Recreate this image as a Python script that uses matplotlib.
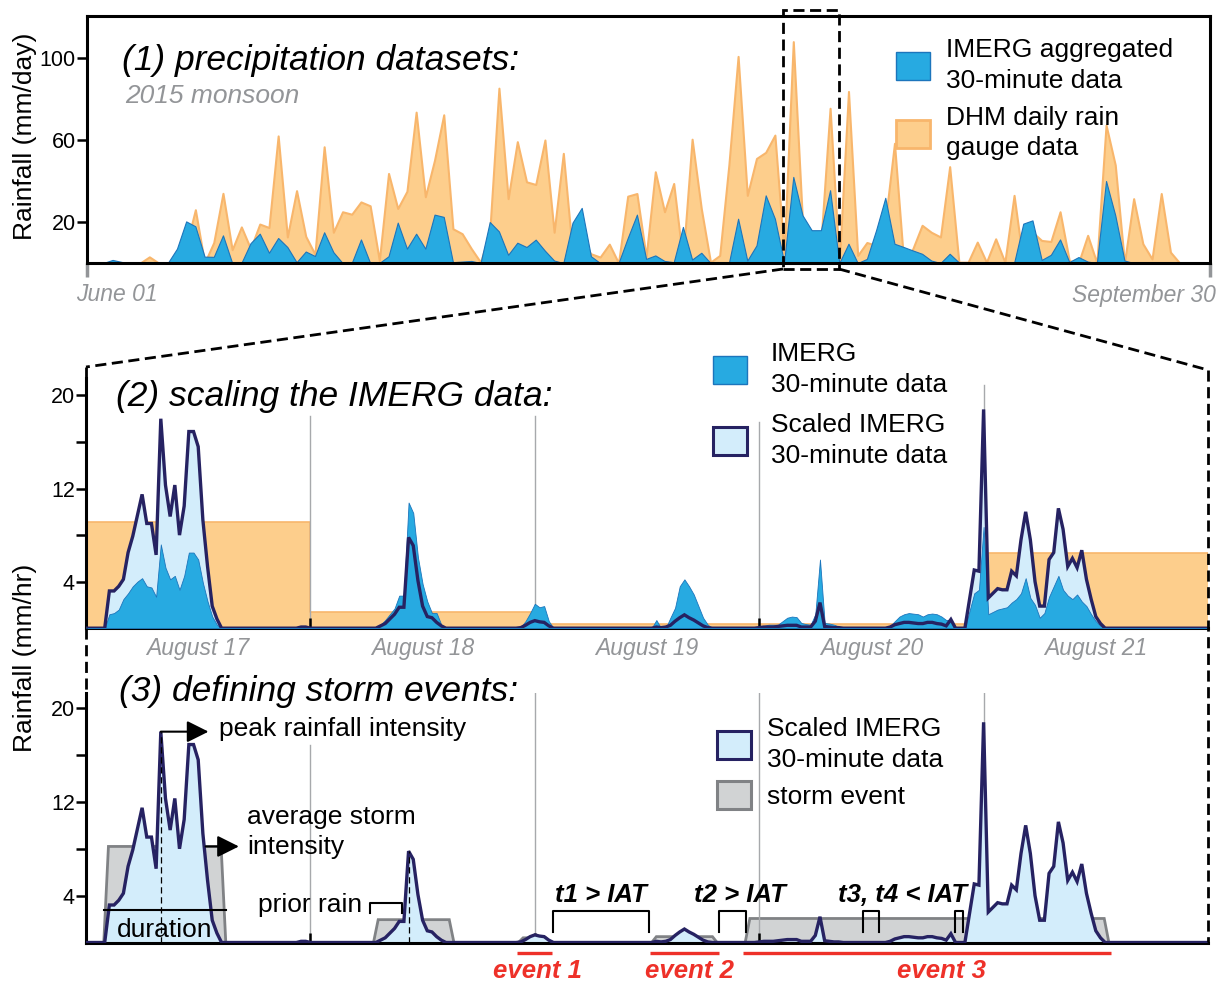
import numpy as np
import matplotlib.pyplot as plt
from matplotlib.patches import Patch, Polygon, Rectangle
from matplotlib.lines import Line2D

plt.rcParams['font.family'] = ['Liberation Sans', 'DejaVu Sans']

# (1) daily rainfall, 1 June - 30 September 2015 (mm/day)
dhm_daily = [0, 0, 0, 0, 0, 0, 0, 3, 0, 0,
             2, 8, 26, 0, 10, 34, 6.5, 17.6, 7, 19,
             17.3, 62, 12.7, 35.3, 13, 4.3, 56.7, 15, 25, 23.8,
             29.8, 27.9, 1.2, 43.7, 26.6, 35, 73.6, 32.3, 50.2, 72.3,
             16.7, 14.3, 7, 0.4, 15, 85.3, 31.4, 59.2, 39.6, 38.3,
             60, 15, 53.5, 5, 10, 4.5, 2.9, 9.2, 0, 32.6,
             33.9, 3, 44.5, 25, 38.8, 1.2, 60.4, 26.5, 0.4, 3.7,
             48, 100.8, 33, 51, 54, 62.4, 5, 108, 20, 10,
             10, 75.5, 0, 83.7, 3.7, 10, 8.6, 20, 58.4, 0.4,
             7, 18.4, 15, 12.7, 47, 0.4, 0.4, 10.2, 0.4, 11.8,
             0.4, 33, 0, 15, 11, 10.5, 25, 1.2, 0, 13.5,
             0, 67.3, 47.8, 0, 31.4, 9.4, 2, 33.9, 5.3, 0,
             0, 0]
imerg_daily = [0, 0, 0, 1.5, 0.5, 0, 0, 0, 0, 0,
               7, 20.3, 17.9, 3.1, 3, 13.5, 0, 0, 9.7, 14.3,
               5, 12.2, 7.8, 0.4, 5.6, 3.4, 15, 5.3, 0, 0,
               11.5, 0, 0, 3.3, 19.7, 7, 14.3, 7, 23.6, 22.5,
               0.4, 0.7, 1, 0, 20, 15.4, 4, 9.9, 7.8, 11.4,
               6, 1.2, 0, 19.7, 26.9, 3.3, 0, 0, 0, 12.2,
               23.6, 2, 3.7, 1, 0.4, 17.6, 1.7, 5, 0, 0,
               0, 21.6, 1.2, 8.6, 33, 21.6, 0.4, 42, 23.3, 16,
               16, 35.5, 0, 9.4, 0, 2, 16, 31.8, 9.4, 7.8,
               6.1, 4.5, 1.2, 0, 4.5, 0.3, 0.3, 0, 0, 0,
               0, 0, 19.2, 20.8, 1.5, 4, 11.5, 0.5, 2.9, 0.7,
               0, 40, 23.3, 1.2, 0, 0, 0, 0, 0, 0,
               0, 0]

# (2) 30-minute rates, 17-21 August (mm/hr); (first half-hour index, values)
imerg_30min = [
    (4, [0, 1.2, 1.3, 1.6, 2.5, 3.0, 3.6, 4.0, 4.3, 3.6, 3.5, 2.7, 7.2, 5.2, 4.2, 4.5,
         3.3, 4.5, 6.5, 6.5, 5.9, 3.9, 2.3, 1.0, 0.3, 0]),
    (45, [0, 0.2, 0.2, 0]),
    (62, [0, 0.3, 0.7, 1.2, 1.7, 2.8, 2.8, 10.8, 9.9, 6.1, 3.8, 2.3, 1.3, 1.3, 0.3, 0]),
    (92, [0, 0.1, 0.6, 1.3, 2.1, 1.8, 1.9, 0.6, 0]),
    (120, [0, 0, 0.7, 0, 0, 0.9, 1.75, 3.6, 4.2, 3.6, 2.9, 1.9, 0.9, 0.3, 0]),
    (143, [0, 0.2, 0.2, 0.3, 0.3, 0.3, 0.6, 0.9, 1.0, 0.95, 0.45, 0.35, 0.3, 1.2, 5.9,
           0.45, 0.4, 0.3, 0.15, 0]),
    (171, [0, 0.2, 0.6, 1.0, 1.2, 1.3, 1.25, 1.2, 1.0, 1.2, 1.26, 1.2, 1.0, 0.7, 0.7, 0]),
    (188, [0, 1.5, 3.0, 3.3, 8.7, 1.2, 1.4, 1.6, 1.7, 1.8, 2.2, 2.5, 3.0, 4.3, 2.6, 2.0,
           0.9, 1.3, 2.7, 3.6, 4.5, 3.3, 2.8, 2.5, 2.9, 2.3, 1.9, 1.2, 0.6, 0.2, 0]),
]
scaled_30min = [
    (4, [0, 3.2, 3.2, 3.6, 4.2, 6.5, 7.9, 9.7, 11.5, 9.0, 9.0, 6.3, 18.0, 12.3, 9.6, 12.3,
         8.0, 10.5, 16.9, 16.9, 15.6, 9.3, 5.3, 1.9, 0.8, 0]),
    (45, [0, 0.1, 0.1, 0]),
    (62, [0, 0.2, 0.4, 0.8, 1.2, 1.8, 1.8, 7.8, 7.1, 4.1, 1.9, 1.0, 0.9, 0.5, 0.2, 0]),
    (92, [0, 0.05, 0.25, 0.5, 0.65, 0.55, 0.5, 0.2, 0]),
    (120, [0, 0, 0.1, 0.05, 0.1, 0.25, 0.6, 0.9, 1.15, 0.9, 0.7, 0.45, 0.2, 0.05, 0]),
    (143, [0, 0.05, 0.1, 0.1, 0.1, 0.15, 0.2, 0.25, 0.25, 0.25, 0.1, 0.1, 0.1, 0.6, 2.2,
           0.15, 0.1, 0.05, 0.05, 0]),
    (171, [0, 0.1, 0.3, 0.4, 0.5, 0.5, 0.45, 0.4, 0.4, 0.5, 0.5, 0.4, 0.35, 0.2, 0.75, 0]),
    (188, [0, 2.5, 5.0, 4.9, 18.8, 2.6, 3.0, 3.4, 3.3, 3.3, 4.9, 4.5, 7.6, 10.0, 7.6, 4.0,
           1.9, 1.9, 5.9, 6.5, 10.3, 8.5, 5.3, 6.0, 5.2, 6.7, 4.2, 2.5, 1.0, 0.4, 0]),
]
dhm_rate = [9.1, 1.4, 0.4, 0.4, 6.5]   # gauge rate for each day
day_labels = ['August 17', 'August 18', 'August 19', 'August 20', 'August 21']

# (3) storm events (half-hour index) and mean intensity (mm/hr)
storm_start = [3.8, 61.5, 92.5, 121.0, 141.0]
storm_end = [29.9, 78.7, 99.3, 135.0, 218.8]
storm_mean = [8.2, 1.95, 0.4, 0.5, 2.05]
storm_names = ['', '', 'event 1', 'event 2', 'event 3']
name_x = [0, 0, 96.5, 129.0, 182.9]

BLUE, BLUE_EDGE = '#27AAE1', '#1C75BC'
ORANGE, ORANGE_EDGE = '#FDCE8C', '#F8B66C'
LIGHT, NAVY = '#D3EDFB', '#262262'
GRAY_FILL, GRAY_EDGE = '#D1D3D4', '#808285'
RED = '#EE3129'
TXT_GRAY = '#939598'

W, H = 1227, 985
fig = plt.figure(figsize=(W / 100, H / 100), dpi=100)


def fbox(left, top, right, bottom):
    return [left / W, 1 - bottom / H, (right - left) / W, (bottom - top) / H]


def fig_dash(x0, y0, x1, y1):
    fig.add_artist(Line2D([x0 / W, x1 / W], [1 - y0 / H, 1 - y1 / H], transform=fig.transFigure,
                          color='k', lw=2, ls=(0, (4, 2))))


def series(segments, n=241):
    out = np.zeros(n)
    for start, vals in segments:
        out[start:start + len(vals)] = vals
    return out


def put_legend(ax, handles, labels, x, y, pad, spacing):
    leg = ax.legend(handles, labels, loc='upper left', bbox_to_anchor=(x / W, 1 - y / H),
                    bbox_transform=fig.transFigure, frameon=False, borderpad=0,
                    borderaxespad=0, fontsize=19, handlelength=1.3, handleheight=1.25,
                    handletextpad=pad, labelspacing=spacing)
    for txt in leg.get_texts():
        txt.set_linespacing(1.35)
    return leg


# ---------------- panel 1 ----------------
ax1 = fig.add_axes(fbox(87, 16, 1210, 263))
days = np.arange(len(dhm_daily))
ax1.fill_between(days, dhm_daily, color=ORANGE, edgecolor=ORANGE_EDGE, lw=1.5, zorder=1)
ax1.fill_between(days, imerg_daily, color=BLUE, edgecolor=BLUE_EDGE, lw=0.8, zorder=2)
ax1.set_xlim(0.22, 122.3)
ax1.set_ylim(0, 120.5)
ax1.set_yticks([20, 60, 100])
ax1.set_xticks([])
ax1.tick_params(axis='y', length=7, width=1.8, labelsize=15.5, pad=1)
for s in ax1.spines.values():
    s.set_linewidth(2.2)
ax1.text(0.031, 0.78, '(1) precipitation datasets:', transform=ax1.transAxes,
         fontsize=25.5, style='italic', va='baseline')
ax1.text(0.034, 0.648, '2015 monsoon', transform=ax1.transAxes, fontsize=19,
         style='italic', color=TXT_GRAY, va='baseline')
for xf in (0, 1):
    ax1.plot([xf, xf], [0, -0.055], transform=ax1.transAxes, color=TXT_GRAY, lw=2.5,
             clip_on=False, solid_capstyle='butt')
ax1.text(-0.01, -0.155, 'June 01', transform=ax1.transAxes, fontsize=16.5, style='italic',
         color=TXT_GRAY, va='baseline', ha='left')
ax1.text(1.005, -0.158, 'September 30', transform=ax1.transAxes, fontsize=16.5,
         style='italic', color=TXT_GRAY, va='baseline', ha='right')
ax1.add_patch(Rectangle((75.87, -3), 6.09, 126.4, fill=False, ec='k', lw=2,
                        ls=(0, (4, 2)), clip_on=False, zorder=5))
put_legend(ax1, [Patch(fc=BLUE, ec=BLUE_EDGE, lw=1), Patch(fc=ORANGE, ec=ORANGE_EDGE, lw=2)],
           ['IMERG aggregated\n30-minute data', 'DHM daily rain\ngauge data'],
           896, 38, 0.6, 0.5)
fig.text(25 / W, 1 - 136 / H, 'Rainfall (mm/day)', rotation=90, fontsize=19,
         ha='center', va='center')

# ---------------- panels 2 & 3 ----------------
t = np.arange(241)
imerg = series(imerg_30min)
scaled = series(scaled_30min)
day_edges = np.arange(0, 241, 48)

ax2 = fig.add_axes(fbox(86, 378, 1208, 628.2))
ax3 = fig.add_axes(fbox(86, 693, 1208, 942.5))
ax2.set_ylim(0, 21.5)
ax3.set_ylim(0, 21.3)

for ax in (ax2, ax3):
    ax.set_xlim(0, 240)
    ax.spines['top'].set_visible(False)
    ax.spines['right'].set_visible(False)
    ax.spines['left'].set_linewidth(2.2)
    ax.spines['bottom'].set_linewidth(2.2)
    ax.set_yticks([4, 12, 20])
    ax.set_yticks([8, 16], minor=True)
    ax.set_xticks(day_edges[1:-1])
    ax.tick_params(axis='y', which='both', length=7, width=1.8, labelsize=15.5, pad=1)
    ax.tick_params(axis='x', direction='in', length=7, width=1.8, labelbottom=False)

# panel 2
ax2.fill_between(np.r_[day_edges[:-1], 240], np.r_[dhm_rate, dhm_rate[-1]], step='post',
                 color=ORANGE, lw=0, zorder=1)
ax2.step(np.r_[day_edges[:-1], 240], np.r_[dhm_rate, dhm_rate[-1]], where='post',
         color=ORANGE_EDGE, lw=1.2, zorder=1.1)
for xd, top in zip(day_edges[1:-1], [18.2, 18.2, 17.7, 20.9]):
    ax2.plot([xd, xd], [0, top], color='#A7A9AC', lw=1, zorder=1.5)
ax2.fill_between(t, scaled, color=LIGHT, lw=0, zorder=2)
ax2.fill_between(t, imerg, color=BLUE, edgecolor=BLUE_EDGE, lw=0.6, zorder=3)
ax2.plot(t, scaled, color=NAVY, lw=2.4, zorder=4, solid_joinstyle='miter')
ax2.text(6.5, 19.1, '(2) scaling the IMERG data:', fontsize=25.5, style='italic', va='baseline')
for k, lab in enumerate(day_labels):
    ax2.text(24 + 48 * k, -2.3, lab, fontsize=16.5, style='italic', color=TXT_GRAY,
             ha='center', va='baseline', clip_on=False)
put_legend(ax2, [Patch(fc=BLUE, ec=BLUE_EDGE, lw=1), Patch(fc=LIGHT, ec=NAVY, lw=2.2)],
           ['IMERG\n30-minute data', 'Scaled IMERG\n30-minute data'],
           713, 342, 0.9, 0.62)

# panel 3
for xd, top in zip(day_edges[1:-1], [16.9, 21.3, 21.3, 21.3]):
    ax3.plot([xd, xd], [0, top], color='#A7A9AC', lw=1, zorder=1.5)
for s, e, h in zip(storm_start, storm_end, storm_mean):
    ax3.add_patch(Polygon([(s, 0), (s + 1, h), (e - 1, h), (e, 0)], closed=True,
                          fc=GRAY_FILL, ec=GRAY_EDGE, lw=2, zorder=1))
ax3.fill_between(t, scaled, color=LIGHT, lw=0, zorder=2)
ax3.plot(t, scaled, color=NAVY, lw=2.4, zorder=3, solid_joinstyle='miter')
ax3.text(7.1, 20.6, '(3) defining storm events:', fontsize=25.5, style='italic', va='baseline')

for s, e, name, nx in zip(storm_start, storm_end, storm_names, name_x):
    if name:
        ax3.plot([s - 0.4, e + 0.4], [-0.92, -0.92], color=RED, lw=2.4, clip_on=False,
                 solid_capstyle='butt')
        ax3.text(nx, -3.06, name, color=RED, fontsize=18.5, style='italic',
                 weight='bold', ha='center', va='baseline', clip_on=False)

# annotations of the first storm
i_pk = int(np.argmax(scaled[:48]))
ax3.plot([i_pk, i_pk], [0, scaled[i_pk]], color='k', lw=0.9, ls=(0, (5, 3)), zorder=4)
ax3.annotate('', xy=(26.2, scaled[i_pk]), xytext=(i_pk, scaled[i_pk]),
             arrowprops=dict(arrowstyle='-|>,head_length=0.6,head_width=0.3', color='k',
                             lw=1.5, mutation_scale=22, shrinkA=0, shrinkB=0), zorder=5)
ax3.text(28.5, 17.65, 'peak rainfall intensity', fontsize=19, va='baseline')
ax3.annotate('', xy=(32.7, storm_mean[0]), xytext=(25.6, storm_mean[0]),
             arrowprops=dict(arrowstyle='-|>,head_length=0.6,head_width=0.3', color='k',
                             lw=1.5, mutation_scale=22, shrinkA=0, shrinkB=0), zorder=5)
ax3.text(34.4, 9.44, 'average storm\nintensity', fontsize=19, va='center', linespacing=1.35)
ax3.plot([storm_start[0], storm_end[0]], [2.8, 2.8], color='k', lw=1.5, zorder=5)
ax3.text(16.9, 0.5, 'duration', fontsize=19, ha='center', va='baseline', zorder=5)

# prior rain of the second storm
i_pk2 = 48 + int(np.argmax(scaled[48:96]))
ax3.plot([i_pk2, i_pk2], [0, scaled[i_pk2]], color='k', lw=0.9, ls=(0, (5, 3)), zorder=4)
ax3.plot([60.8, 60.8, 67.6, 67.6], [2.52, 3.35, 3.35, 2.52], color='k', lw=1.5, zorder=5)
ax3.text(59.0, 2.63, 'prior rain', fontsize=19, ha='right', va='baseline')

# inter-arrival brackets
for x0, x1 in [(99.9, 120.4), (135.5, 141.1), (166.3, 169.6), (185.9, 187.7)]:
    ax3.plot([x0, x0, x1, x1], [0.92, 2.72, 2.72, 0.92], color='k', lw=1.5, zorder=5)
for xc, lab in [(110.2, 't1 > IAT'), (139.9, 't2 > IAT'), (174.7, 't3, t4 < IAT')]:
    ax3.text(xc, 3.49, lab, fontsize=18.5, style='italic', weight='bold', ha='center',
             va='baseline')

put_legend(ax3, [Patch(fc=LIGHT, ec=NAVY, lw=2.2), Patch(fc=GRAY_FILL, ec=GRAY_EDGE, lw=2.2)],
           ['Scaled IMERG\n30-minute data', 'storm event'],
           717, 717, 0.6, 0.35)

fig.text(25 / W, 1 - 658 / H, 'Rainfall (mm/hr)', rotation=90, fontsize=19,
         ha='center', va='center')

# zoom connectors and dashed frame
fig_dash(783, 269, 86, 367)
fig_dash(839, 269, 1208, 370)
fig_dash(86, 367, 86, 378)
fig_dash(86, 628, 86, 693)
fig_dash(1208, 370, 1208, 942)

fig.savefig('out.png', dpi=100)
